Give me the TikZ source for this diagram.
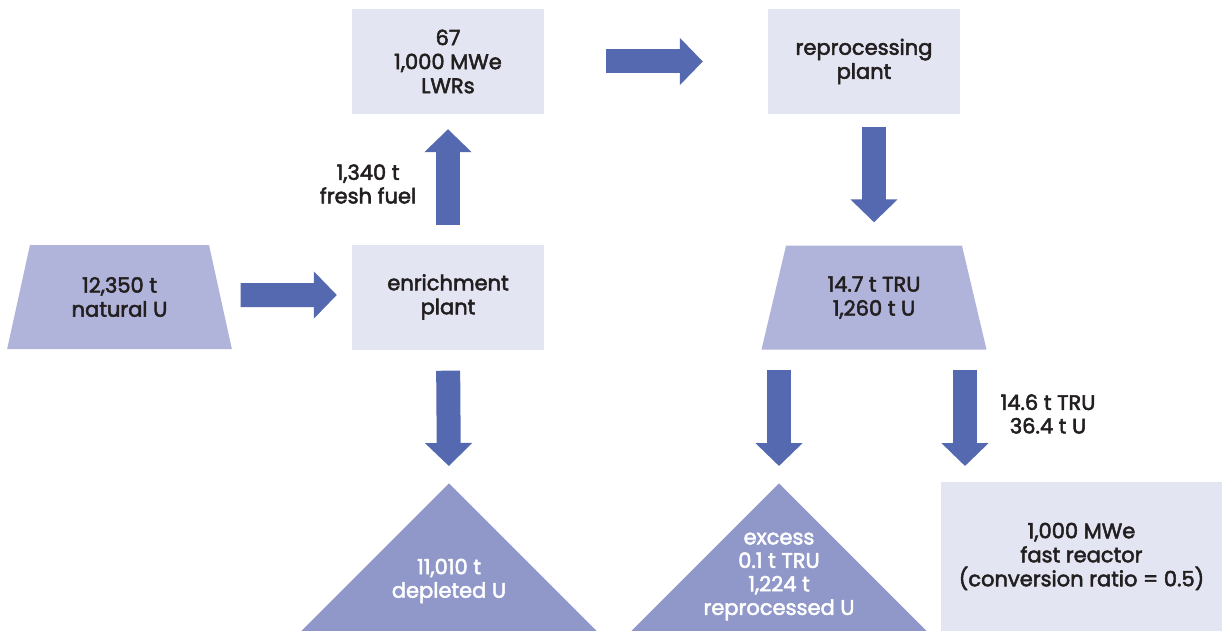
\documentclass[tikz,border=0pt]{standalone}
\usepackage{fontspec}
\setmainfont{Poppins}[FakeBold=2.5]
\usetikzlibrary{shapes.geometric,arrows.meta}

\definecolor{plantfill}{HTML}{E3E5F2}
\definecolor{stockfill}{HTML}{B0B4DA}
\definecolor{wastefill}{HTML}{9097C9}
\definecolor{flowblue}{HTML}{5469B0}
\definecolor{textdark}{HTML}{231F20}

\tikzset{
  plantbox/.style={rectangle,fill=plantfill,inner sep=0pt,minimum width=192pt,minimum height=105pt,
    align=center,text=textdark,font=\fontsize{21}{24}\selectfont},
  stockbox/.style={trapezium,trapezium left angle=72.9,trapezium right angle=72.9,trapezium stretches=true,
    minimum width=225pt,minimum height=104pt,inner sep=0pt,fill=stockfill,
    align=center,text=textdark,font=\fontsize{21}{24}\selectfont},
  wastebox/.style={isosceles triangle,isosceles triangle apex angle=90,isosceles triangle stretches=true,
    shape border rotate=90,minimum width=296pt,minimum height=148pt,inner sep=0pt,fill=wastefill},
  wastetext/.style={align=center,text=white,font=\fontsize{21}{23.5}\selectfont},
  flownote/.style={align=center,text=textdark,font=\fontsize{21}{23.5}\selectfont},
  flow/.style={line width=24pt,draw=flowblue,-{Triangle[width=46pt,length=23pt]}}
}

\begin{document}
\begin{tikzpicture}[x=1pt,y=-1pt]
\useasboundingbox (0,0) rectangle (1222,631);

\node [stockbox] (natu) at(119.5,297){12,350 t\\natural U};
\node [plantbox] (enrich) at(448,297){enrichment\\plant};
\node [plantbox] (lwr) at(448,61.5){67\\1,000 MWe\\LWRs};
\node [plantbox] (repro) at(864,61.5){reprocessing\\plant};
\node [stockbox] (tru) at(874,297.5){14.7 t TRU\\1,260 t U};

\node [wastebox,anchor=apex] (depl) at(449,483){};
\node [wastetext] (depltxt) at(449,581){11,010 t\\depleted U};
\node [wastebox,anchor=apex] (excess) at(779,483){};
\node [wastetext] (excesstxt) at(779,576.5){excess\\0.1 t TRU\\1,224 t\\reprocessed U};

\node [plantbox,minimum width=281pt,minimum height=149pt] (fast) at(1081.5,556.5){1,000 MWe\\fast reactor\\(conversion ratio = 0.5)};
\coordinate (fastin) at(965,482);

\node [flownote] (fuel) at(368,184){1,340 t\\fresh fuel};
\node [flownote] (fastfeed) at(1048,414){14.6 t TRU\\36.4 t U};

\draw[flow,shorten <=20pt,shorten >=15pt]([yshift=2pt]natu.east) -- ([yshift=2pt]enrich.west);
\draw[flow,shorten <=19pt,shorten >=15pt](enrich.north) -- (lwr.south);
\draw[flow,shorten <=62pt,shorten >=65pt](lwr.east) -- (repro.west);
\draw[flow,shorten <=13pt,shorten >=23pt](repro.south -| tru.north) -- (tru.north);
\draw[flow,shorten <=21pt,shorten >=17pt](enrich.south) -- (depl.apex);
\draw[flow,shorten <=20pt,shorten >=17pt](excess.apex |- tru.south) -- (excess.apex);
\draw[flow,shorten <=20pt,shorten >=16pt](fastin |- tru.south) -- (fastin);
\end{tikzpicture}
\end{document}
